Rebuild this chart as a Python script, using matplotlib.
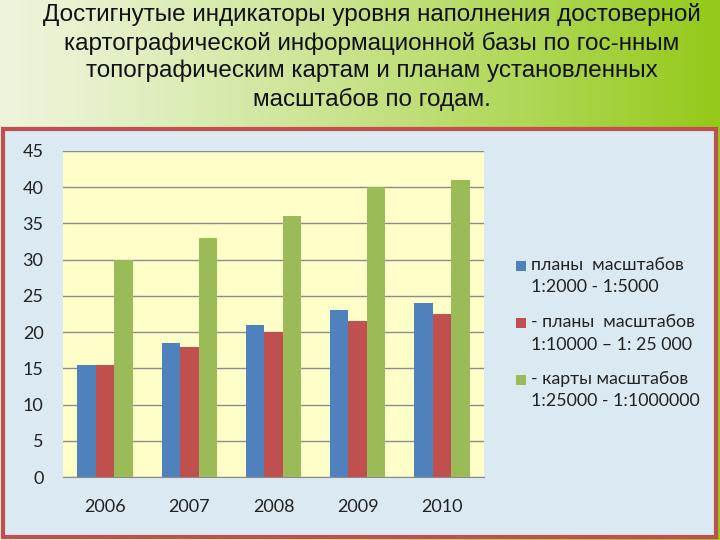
import numpy as np
import matplotlib
matplotlib.use("Agg")
import matplotlib.pyplot as plt
from matplotlib.patches import Rectangle

years = ["2006", "2007", "2008", "2009", "2010"]
plans_small = [15.5, 18.5, 21, 23, 24]
plans_mid = [15.5, 18, 20, 21.5, 22.5]
maps_big = [30, 33, 36, 40, 41]
series_labels = [
    "планы  масштабов\n1:2000 - 1:5000",
    "- планы  масштабов\n1:10000 – 1: 25 000",
    "- карты масштабов\n1:25000 - 1:1000000",
]
colors = ["#4f81bd", "#c0504d", "#9bbb59"]
title = ("Достигнутые индикаторы уровня наполнения достоверной\n"
         "картографической информационной базы по гос-нным\n"
         "топографическим картам и планам установленных\n"
         "масштабов по годам.")

title_font = "Liberation Sans"
body_font = "Lato"

W, H = 720, 540
fig = plt.figure(figsize=(7.2, 5.4), dpi=100)

# фон слайда: плавный переход к жёлто-зелёному
bg = fig.add_axes([0, 0, 1, 1])
bg.set_axis_off()
bg.set_zorder(-1)
left = np.array([0.93, 0.96, 0.86])
right = np.array([0.58, 0.79, 0.10])
t = np.linspace(0, 1, 256) ** 1.2
grad = left[None, :] * (1 - t[:, None]) + right[None, :] * t[:, None]
bg.imshow(grad[None, :, :], aspect="auto", extent=[0, 1, 0, 1])
bg.set_xlim(0, 1)
bg.set_ylim(0, 1)

fig.text(372 / W, 1 - 3 / H, title, ha="center", va="top", fontsize=17.5,
         family=[title_font, "DejaVu Sans"], color="#111111", linespacing=1.3)

# рамка диаграммы
fig.patches.append(Rectangle((3 / W, 3 / H), 713 / W, (540 - 129 - 3) / H,
                             transform=fig.transFigure, facecolor="#dbe9f2",
                             edgecolor="#c0504d", linewidth=3, zorder=1))

ax = fig.add_axes([63 / W, 1 - 477 / H, 421 / W, 326 / H])
ax.set_zorder(2)
ax.set_facecolor("#fefec8")
x = np.arange(len(years))
w = 0.22
for i, (vals, c) in enumerate(zip([plans_small, plans_mid, maps_big], colors)):
    ax.bar(x + (i - 1) * w, vals, width=w, color=c, zorder=3)

ax.set_xlim(-0.5, len(years) - 0.5)
ax.set_ylim(0, 45)
ax.set_yticks(range(0, 46, 5))
ax.set_xticks(x)
ax.set_xticklabels(years)
ax.grid(axis="y", color="#8c8c8c", linewidth=1, zorder=0)
for s in ["top", "right", "left"]:
    ax.spines[s].set_visible(False)
ax.spines["bottom"].set_color("#8c8c8c")
ax.tick_params(length=0, labelsize=13, colors="#222222")
ax.tick_params(axis="y", pad=14)
ax.tick_params(axis="x", pad=16)
for lab in ax.get_xticklabels() + ax.get_yticklabels():
    lab.set_family([body_font, "DejaVu Sans"])

# легенда
leg_y = [266, 323, 380]
for y, c, lab in zip(leg_y, colors, series_labels):
    fig.patches.append(Rectangle((516 / W, 1 - (y + 5) / H), 10 / W, 10 / H,
                                 transform=fig.transFigure, facecolor=c,
                                 edgecolor="none", zorder=5))
    fig.text(531 / W, 1 - (y - 9) / H, lab, ha="left", va="top", fontsize=12.8,
             family=[body_font, "DejaVu Sans"], color="#222222", linespacing=1.5)

fig.savefig("out.png", dpi=100)
